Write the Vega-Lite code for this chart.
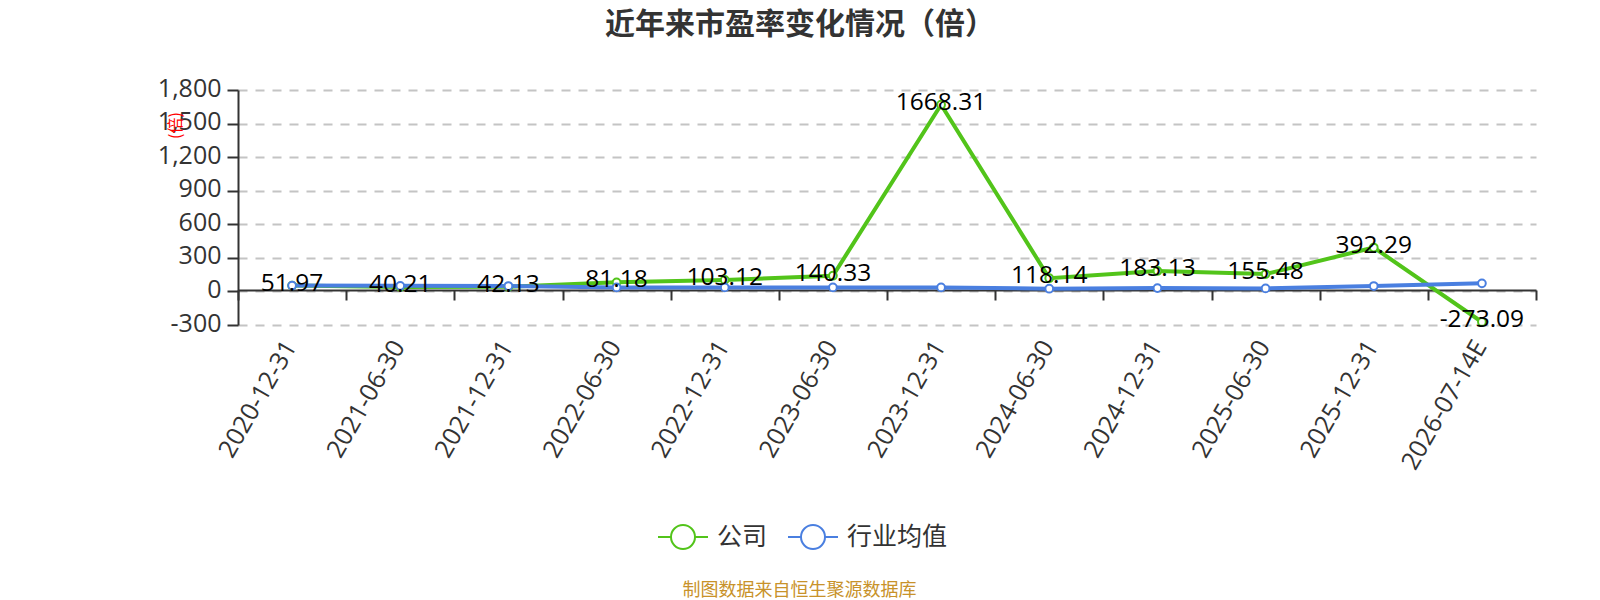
{
  "$schema": "https://vega.github.io/schema/vega-lite/v6.json",
  "description": "近年来市盈率变化情况（倍）",
  "autosize": "none",
  "width": 1298,
  "height": 235,
  "padding": {"left": 238, "top": 90, "right": 64, "bottom": 275},
  "background": "white",
  "title": {
    "text": "近年来市盈率变化情况（倍）",
    "font": "Noto Sans CJK SC",
    "fontSize": 30,
    "fontWeight": "bold",
    "color": "#333333",
    "anchor": "middle",
    "dx": -87,
    "offset": 36
  },
  "config": {
    "font": "Open Sans",
    "view": {"stroke": null}
  },
  "data": {
    "values": [
      {"date": "2020-12-31", "series": "公司", "value": 51.97},
      {"date": "2021-06-30", "series": "公司", "value": 40.21},
      {"date": "2021-12-31", "series": "公司", "value": 42.13},
      {"date": "2022-06-30", "series": "公司", "value": 81.18},
      {"date": "2022-12-31", "series": "公司", "value": 103.12},
      {"date": "2023-06-30", "series": "公司", "value": 140.33},
      {"date": "2023-12-31", "series": "公司", "value": 1668.31},
      {"date": "2024-06-30", "series": "公司", "value": 118.14},
      {"date": "2024-12-31", "series": "公司", "value": 183.13},
      {"date": "2025-06-30", "series": "公司", "value": 155.48},
      {"date": "2025-12-31", "series": "公司", "value": 392.29},
      {"date": "2026-07-14E", "series": "公司", "value": -273.09},
      {"date": "2020-12-31", "series": "行业均值", "value": 52},
      {"date": "2021-06-30", "series": "行业均值", "value": 50},
      {"date": "2021-12-31", "series": "行业均值", "value": 48},
      {"date": "2022-06-30", "series": "行业均值", "value": 36},
      {"date": "2022-12-31", "series": "行业均值", "value": 36},
      {"date": "2023-06-30", "series": "行业均值", "value": 36},
      {"date": "2023-12-31", "series": "行业均值", "value": 36},
      {"date": "2024-06-30", "series": "行业均值", "value": 24},
      {"date": "2024-12-31", "series": "行业均值", "value": 30},
      {"date": "2025-06-30", "series": "行业均值", "value": 27},
      {"date": "2025-12-31", "series": "行业均值", "value": 48},
      {"date": "2026-07-14E", "series": "行业均值", "value": 72}
    ]
  },
  "encoding": {
    "x": {
      "field": "date",
      "type": "nominal",
      "sort": null,
      "scale": {"paddingInner": 0, "paddingOuter": 0},
      "axis": {
        "title": "制图数据来自恒生聚源数据库",
        "titleFont": "Noto Sans CJK SC",
        "titleFontSize": 18,
        "titleFontWeight": "normal",
        "titleColor": "#c8922a",
        "titleX": 561,
        "titleY": 300,
        "titleAlign": "center",
        "titleBaseline": "middle",
        "offset": -35,
        "labelAngle": -60,
        "labelAlign": "right",
        "labelBaseline": "middle",
        "labelFontSize": 25,
        "labelColor": "#333333",
        "labelPadding": 42,
        "labelOffset": -2,
        "labelOverlap": false,
        "labelFlush": false,
        "tickBand": "extent",
        "tickSize": 10,
        "tickWidth": 2,
        "tickColor": "#333333",
        "domainColor": "#333333",
        "domainWidth": 2
      }
    },
    "y": {
      "field": "value",
      "type": "quantitative",
      "scale": {"domain": [-300, 1800], "nice": false, "zero": false},
      "axis": {
        "values": [-300, 0, 300, 600, 900, 1200, 1500, 1800],
        "format": ",d",
        "labelExpr": "replace(datum.label, '−', '-')",
        "title": "(倍)",
        "titleFont": "Noto Sans CJK SC",
        "titleFontSize": 16,
        "titleFontWeight": "normal",
        "titleColor": "#ff0000",
        "titleAngle": -90,
        "titleX": -63,
        "titleY": 35,
        "titleAlign": "center",
        "titleBaseline": "middle",
        "labelFontSize": 25,
        "labelColor": "#333333",
        "labelPadding": 6,
        "labelOffset": -2,
        "tickSize": 11,
        "tickWidth": 2,
        "tickColor": "#333333",
        "domainColor": "#333333",
        "domainWidth": 2,
        "grid": true,
        "gridColor": "#c4c4c4",
        "gridWidth": 2,
        "gridDash": [9, 8]
      }
    }
  },
  "layer": [
    {
      "mark": {"type": "line", "strokeWidth": 4},
      "encoding": {
        "stroke": {
          "field": "series",
          "type": "nominal",
          "scale": {"domain": ["公司", "行业均值"], "range": ["#52c41a", "#4a7fe0"]},
          "legend": {
            "title": null,
            "orient": "none",
            "legendX": 419,
            "legendY": 421,
            "direction": "horizontal",
            "symbolType": "M-1 0H-0.48A0.48 0.48 0 1 1 0.48 0A0.48 0.48 0 1 1 -0.48 0M0.48 0H1",
            "symbolSize": 2500,
            "symbolStrokeWidth": 2,
            "symbolFillColor": "transparent",
            "labelFont": "Noto Sans CJK SC",
            "labelFontSize": 25,
            "labelColor": "#333333",
            "labelOffset": 8,
            "columnPadding": 16
          }
        }
      }
    },
    {
      "mark": {"type": "point", "shape": "circle", "filled": false, "fill": "white", "fillOpacity": 1, "size": 60, "strokeWidth": 2, "opacity": 1},
      "encoding": {
        "stroke": {"field": "series", "type": "nominal"}
      }
    },
    {
      "transform": [{"filter": "datum.series === '公司'"}],
      "mark": {"type": "text", "fontSize": 24.5, "color": "#000000", "baseline": "middle", "align": "center", "dy": -2},
      "encoding": {
        "text": {"field": "value", "type": "nominal"}
      }
    }
  ]
}
